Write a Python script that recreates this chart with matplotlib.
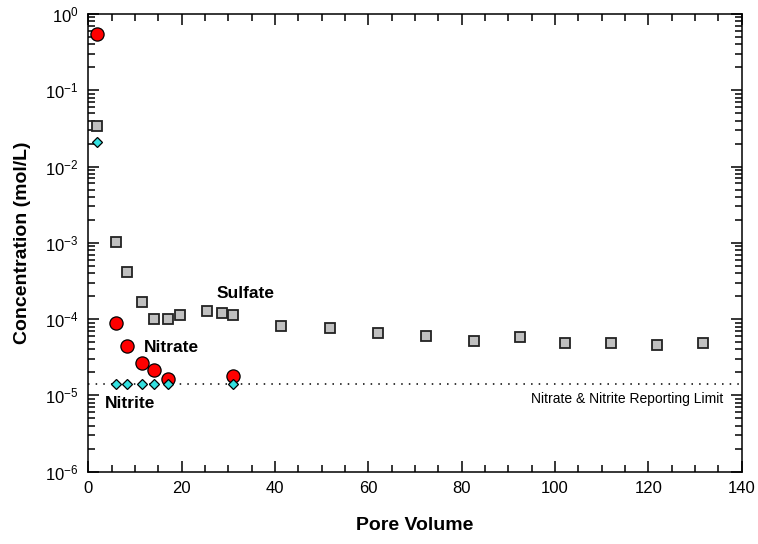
import matplotlib
matplotlib.use("Agg")
import matplotlib.pyplot as plt
from matplotlib.ticker import LogLocator, MultipleLocator, NullFormatter

plt.rcParams["font.family"] = ["Liberation Sans", "DejaVu Sans"]
plt.rcParams["mathtext.fontset"] = "custom"
plt.rcParams["mathtext.rm"] = "Liberation Sans"
plt.rcParams["mathtext.default"] = "regular"
plt.rcParams["axes.unicode_minus"] = False

# sulfate in effluent
pv_sulfate = [1.9, 5.9, 8.3, 11.6, 14.1, 17.1, 19.7, 25.4, 28.7, 31.0,
              41.3, 51.8, 62.0, 72.3, 82.6, 92.4, 102.2, 112.0, 121.9, 131.8]
sulfate = [3.4e-2, 1.02e-3, 4.1e-4, 1.66e-4, 1.0e-4, 1.0e-4, 1.14e-4, 1.27e-4, 1.19e-4, 1.13e-4,
           8.2e-5, 7.6e-5, 6.5e-5, 6.0e-5, 5.2e-5, 5.8e-5, 4.9e-5, 4.8e-5, 4.6e-5, 4.8e-5]

# nitrate / nitrite share the same sampling points
pv_n = [1.9, 5.9, 8.3, 11.6, 14.1, 17.1, 31.0]
nitrate = [0.55, 8.9e-5, 4.4e-5, 2.7e-5, 2.15e-5, 1.63e-5, 1.8e-5]
nitrite = [2.1e-2, 1.43e-5, 1.43e-5, 1.43e-5, 1.43e-5, 1.43e-5, 1.43e-5]

reporting_limit = 1.43e-5

fig = plt.figure(figsize=(7.58, 5.44), dpi=100)
ax = fig.add_axes([0.1165, 0.1329, 0.862, 0.8414])

ax.plot([0, 140], [reporting_limit, reporting_limit], color="black",
        linestyle=(0, (1, 4)), lw=1.1, zorder=1)

ax.plot(pv_sulfate, sulfate, "s", ms=7.8, mfc="#c0c0c0", mec="#222222", mew=1.3, zorder=3)
ax.plot(pv_n, nitrate, "o", ms=9.5, mfc="#ff0000", mec="black", mew=0.9, zorder=4)
ax.plot(pv_n, nitrite, "D", ms=5.2, mfc="#33e0e0", mec="black", mew=0.9, zorder=5)

ax.set_yscale("log")
ax.set_xlim(0, 140)
ax.set_ylim(1e-6, 1)

ax.xaxis.set_major_locator(MultipleLocator(20))
ax.xaxis.set_minor_locator(MultipleLocator(5))
ax.yaxis.set_major_locator(LogLocator(base=10, numticks=10))
ax.yaxis.set_minor_locator(LogLocator(base=10, subs=range(2, 10), numticks=20))
ax.yaxis.set_minor_formatter(NullFormatter())

ax.tick_params(which="both", direction="in", top=True, right=True, width=1.1)
ax.tick_params(which="major", length=8, labelsize=12, pad=7)
ax.tick_params(which="minor", length=5)
for s in ax.spines.values():
    s.set_linewidth(1.1)

ax.set_xlabel("Pore Volume", fontsize=14, fontweight="bold", labelpad=15)
ax.set_ylabel("Concentration (mol/L)", fontsize=14, fontweight="bold", labelpad=10)

ax.text(27.5, 2.2e-4, "Sulfate", fontsize=12.5, fontweight="bold", ha="left", va="center")
ax.text(11.8, 4.3e-5, "Nitrate", fontsize=12.5, fontweight="bold", ha="left", va="center")
ax.text(3.6, 7.9e-6, "Nitrite", fontsize=12.5, fontweight="bold", ha="left", va="center")
ax.text(136.1, 9e-6, "Nitrate & Nitrite Reporting Limit", fontsize=10, ha="right", va="center")

fig.savefig("out.png", dpi=100)
